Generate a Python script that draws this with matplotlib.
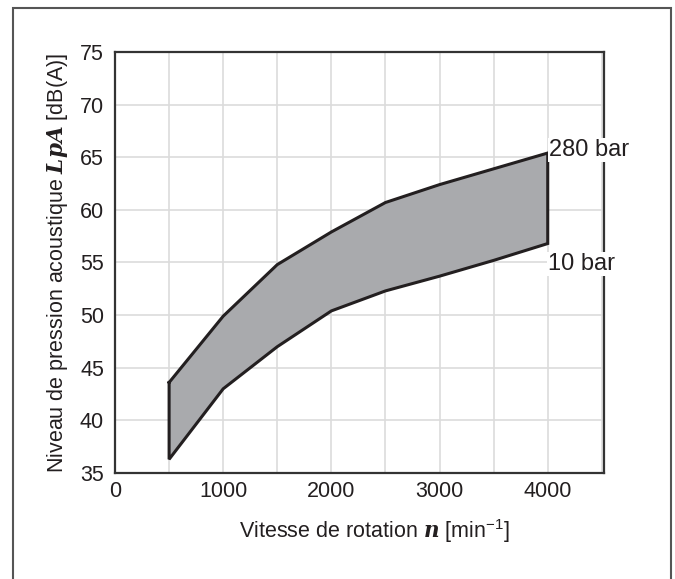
import numpy as np
import matplotlib.pyplot as plt
from matplotlib.patches import Rectangle

# speed [min-1] and sound pressure level [dB(A)]
speed = [500, 1000, 1500, 2000, 2500, 3000, 3500, 4000]
level_280bar = [43.6, 49.9, 54.8, 57.9, 60.7, 62.4, 63.9, 65.4]
level_10bar = [36.3, 43.0, 47.0, 50.4, 52.3, 53.7, 55.2, 56.8]

x_ticks = [0, 1000, 2000, 3000, 4000]
y_ticks = [35, 40, 45, 50, 55, 60, 65, 70, 75]

# bold italic serif for the symbols LpA and n
plt.rcParams['mathtext.fontset'] = 'custom'
plt.rcParams['mathtext.it'] = 'DejaVu Serif:italic:bold'
plt.rcParams['mathtext.rm'] = 'Liberation Sans'

fig = plt.figure(figsize=(6.75, 5.79), dpi=100)
ax = fig.add_axes([0.1704, 0.1831, 0.7244, 0.7271])

# outer frame of the figure
fig.patches.append(Rectangle((0.0193, -0.02), 0.975, 1.006, transform=fig.transFigure,
                             fill=False, edgecolor='#555555', linewidth=1.5))

# band between both pressures, closed polygon
xs = np.array(speed)
up = np.array(level_280bar)
lo = np.array(level_10bar)
poly_x = np.concatenate([xs, xs[::-1], xs[:1]])
poly_y = np.concatenate([up, lo[::-1], up[:1]])
ax.fill(poly_x, poly_y, color='#a9aaad', zorder=2, linewidth=0)
ax.plot(poly_x, poly_y, color='#231f20', linewidth=2.2, zorder=3, solid_joinstyle='miter')

ax.set_xlim(0, 4520)
ax.set_ylim(35, 75)
ax.set_xticks(np.arange(0, 4501, 500), minor=True)
ax.set_xticks(x_ticks)
ax.set_yticks(y_ticks)
ax.grid(True, which='both', color='#dcdcdc', linewidth=1.2, zorder=1)
ax.set_axisbelow(True)
ax.tick_params(which='both', length=0)
ax.tick_params(axis='y', pad=8, labelsize=15.5)
ax.tick_params(axis='x', pad=6, labelsize=15.5)
for lab in ax.get_yticklabels() + ax.get_xticklabels():
    lab.set_family('Liberation Sans')
    lab.set_color('#231f20')

for sp in ax.spines.values():
    sp.set_color('#333333')
    sp.set_linewidth(1.6)
    sp.set_zorder(4)

ax.set_ylabel(r'Niveau de pression acoustique $\mathit{LpA}$ [dB(A)]',
              family='Liberation Sans', fontsize=15.5, color='#231f20', labelpad=7)
ax.set_xlabel(r'Vitesse de rotation $\mathit{n}$ [min$^{\mathrm{-1}}$]',
              family='Liberation Sans', fontsize=15.5,
              color='#231f20', labelpad=9)
ax.xaxis.set_label_coords(0.53, -0.105)

bb = dict(facecolor='white', edgecolor='none', pad=0.5)
ax.annotate('280 bar', (speed[-1], 65.7), xytext=(1, 0), textcoords='offset points',
            ha='left', va='center', fontsize=17, family='Liberation Sans',
            color='#231f20', bbox=bb, zorder=6, annotation_clip=False)
ax.annotate('10 bar', (speed[-1], 54.85), xytext=(0, 0), textcoords='offset points',
            ha='left', va='center', fontsize=17, family='Liberation Sans',
            color='#231f20', bbox=bb, zorder=6, annotation_clip=False)

fig.savefig('out.png', dpi=100)
